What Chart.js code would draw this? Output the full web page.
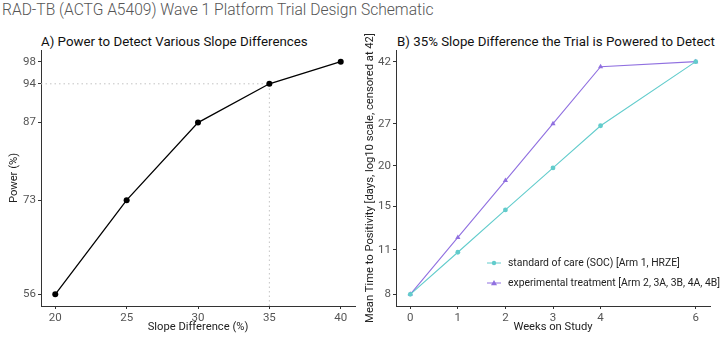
<!DOCTYPE html>
<html><head><meta charset="utf-8">
<script src="https://cdn.jsdelivr.net/npm/chart.js@4"></script>
<style>
body{margin:0;background:#fff;width:720px;height:337px;overflow:hidden;position:relative;font-family:Roboto,sans-serif}
#main{position:absolute;left:2px;top:1px;font-family:Roboto,sans-serif;font-weight:300;font-size:15.6px;color:#555;white-space:nowrap}
.pt{position:absolute;top:34px;font-size:13.3px;color:#111;white-space:nowrap}
#ca{position:absolute;left:0;top:0}
#cb{position:absolute;left:360px;top:0}
</style></head><body>
<div id="main">RAD-TB (ACTG A5409) Wave 1 Platform Trial Design Schematic</div>
<div class="pt" style="left:41px">A) Power to Detect Various Slope Differences</div>
<div class="pt" style="left:397px">B) 35% Slope Difference the Trial is Powered to Detect</div>
<canvas id="ca" width="360" height="337"></canvas>
<canvas id="cb" width="360" height="337"></canvas>
<script>
// Panel A data
const slopeDiff = [20, 25, 30, 35, 40];
const power = [56, 73, 87, 94, 98];
const powerTicks = [56, 73, 87, 94, 98];
const slopeTicks = [20, 25, 30, 35, 40];
const refSlope = 35, refPower = 94;
// Panel B data
const weeks = [0, 1, 2, 3, 4, 6];
const socTTP = [8, 10.8, 14.6, 19.7, 26.6, 42];
const expTTP = [8, 12, 18, 27, 40.5, 42];
const ttpTicks = [8, 11, 15, 20, 27, 42];
const weekTicks = [0, 1, 2, 3, 4, 6];
const socLabel = 'standard of care (SOC) [Arm 1, HRZE]';
const expLabel = 'experimental treatment [Arm 2, 3A, 3B, 4A, 4B]';

Chart.defaults.font.family = 'Roboto, sans-serif';
Chart.defaults.animation = false;

function expand(lo, hi){ const d=(hi-lo)*0.05; return [lo-d, hi+d]; }
const [axMin, axMax] = expand(Math.min(...slopeDiff), Math.max(...slopeDiff));
const [ayMin, ayMax] = expand(Math.min(...power), Math.max(...power));
const [bxMin, bxMax] = expand(Math.min(...weeks), Math.max(...weeks));
const lmin = Math.log10(Math.min(...ttpTicks)), lmax = Math.log10(Math.max(...ttpTicks));
const [bl0, bl1] = expand(lmin, lmax);

const axisCommon = {
  border:{display:true,color:'#333',width:1},
  grid:{display:true,drawOnChartArea:false,drawTicks:true,tickLength:3,color:'#333'},
  ticks:{color:'#555',font:{size:11.5},padding:2,autoSkip:false,maxRotation:0},
  title:{display:true,color:'#222',font:{size:11.2}}
};
function fixTicks(vals){ return function(s){ s.ticks = vals.map(v=>({value:v})); }; }

new Chart(document.getElementById('ca'), {
  type:'scatter',
  data:{datasets:[
    {data: slopeDiff.map((x,i)=>({x, y:power[i]})), showLine:true, borderColor:'#000', backgroundColor:'#000', borderWidth:1.3, pointRadius:3, pointBorderWidth:0, pointHoverRadius:3, order:0},
    {data:[{x:axMin,y:refPower},{x:refSlope,y:refPower}], showLine:true, borderColor:'#c4c4c4', borderWidth:1, borderDash:[1.5,3], pointRadius:0, order:1},
    {data:[{x:refSlope,y:ayMin},{x:refSlope,y:refPower}], showLine:true, borderColor:'#c4c4c4', borderWidth:1, borderDash:[1.5,3], pointRadius:0, order:1}
  ]},
  options:{responsive:false, layout:{padding:{top:50,right:5,left:0,bottom:0}},
    plugins:{legend:{display:false},tooltip:{enabled:false}},
    scales:{
      x:{...axisCommon, type:'linear', min:axMin, max:axMax, afterBuildTicks:fixTicks(slopeTicks),
         title:{...axisCommon.title, text:'Slope Difference (%)', padding:{top:0,bottom:3}},
         afterFit:s=>{s.height=31;}},
      y:{...axisCommon, type:'linear', min:ayMin, max:ayMax, afterBuildTicks:fixTicks(powerTicks),
         title:{...axisCommon.title, text:'Power (%)', padding:{top:7,bottom:4}},
         afterFit:s=>{s.width=41;}}
    }
  }
});

const legendPlugin = {
  id:'ggLegend',
  afterDraw(chart){
    const ctx = chart.ctx, ca = chart.chartArea;
    const items = chart.data.datasets;
    const x0 = ca.left + 91, y0 = ca.top + 213;
    ctx.save();
    ctx.font = '10.4px Roboto, sans-serif';
    ctx.textBaseline = 'middle';
    items.forEach((ds,i)=>{
      const y = y0 + i*20;
      ctx.strokeStyle = ds.borderColor; ctx.lineWidth = 1;
      ctx.beginPath(); ctx.moveTo(x0, y); ctx.lineTo(x0+14, y); ctx.stroke();
      ctx.fillStyle = ds.borderColor;
      ctx.beginPath();
      if (ds.pointStyle === 'triangle'){ ctx.moveTo(x0+7, y-3); ctx.lineTo(x0+10, y+2.2); ctx.lineTo(x0+4, y+2.2); ctx.closePath(); }
      else { ctx.arc(x0+7, y, 2.2, 0, Math.PI*2); }
      ctx.fill();
      ctx.fillStyle = '#222';
      ctx.fillText(ds.label, x0+21, y);
    });
    ctx.restore();
  }
};

new Chart(document.getElementById('cb'), {
  type:'scatter',
  data:{datasets:[
    {label:socLabel, data: weeks.map((x,i)=>({x, y:socTTP[i]})), showLine:true, borderColor:'#62cccc', backgroundColor:'#62cccc', borderWidth:1.1, pointStyle:'circle', pointRadius:2.4, pointBorderWidth:0, pointHoverRadius:2.4},
    {label:expLabel, data: weeks.map((x,i)=>({x, y:expTTP[i]})), showLine:true, borderColor:'#9070e0', backgroundColor:'#9070e0', borderWidth:1.1, pointStyle:'triangle', pointRadius:3, pointBorderWidth:0, pointHoverRadius:3}
  ]},
  options:{responsive:false, layout:{padding:{top:50,right:10,left:0,bottom:0}},
    plugins:{legend:{display:false},tooltip:{enabled:false}},
    scales:{
      x:{...axisCommon, type:'linear', min:bxMin, max:bxMax, afterBuildTicks:fixTicks(weekTicks),
         title:{...axisCommon.title, text:'Weeks on Study', padding:{top:0,bottom:3}},
         afterFit:s=>{s.height=31;}},
      y:{...axisCommon, type:'logarithmic', min:Math.pow(10,bl0), max:Math.pow(10,bl1), afterBuildTicks:fixTicks(ttpTicks),
         ticks:{...axisCommon.ticks, callback:v=>String(v)},
         title:{...axisCommon.title, text:'Mean Time to Positivity [days, log10 scale, censored at 42]', padding:{top:3,bottom:2}},
         afterFit:s=>{s.width=36;}}
    }
  },
  plugins:[legendPlugin]
});
</script>
</body></html>
